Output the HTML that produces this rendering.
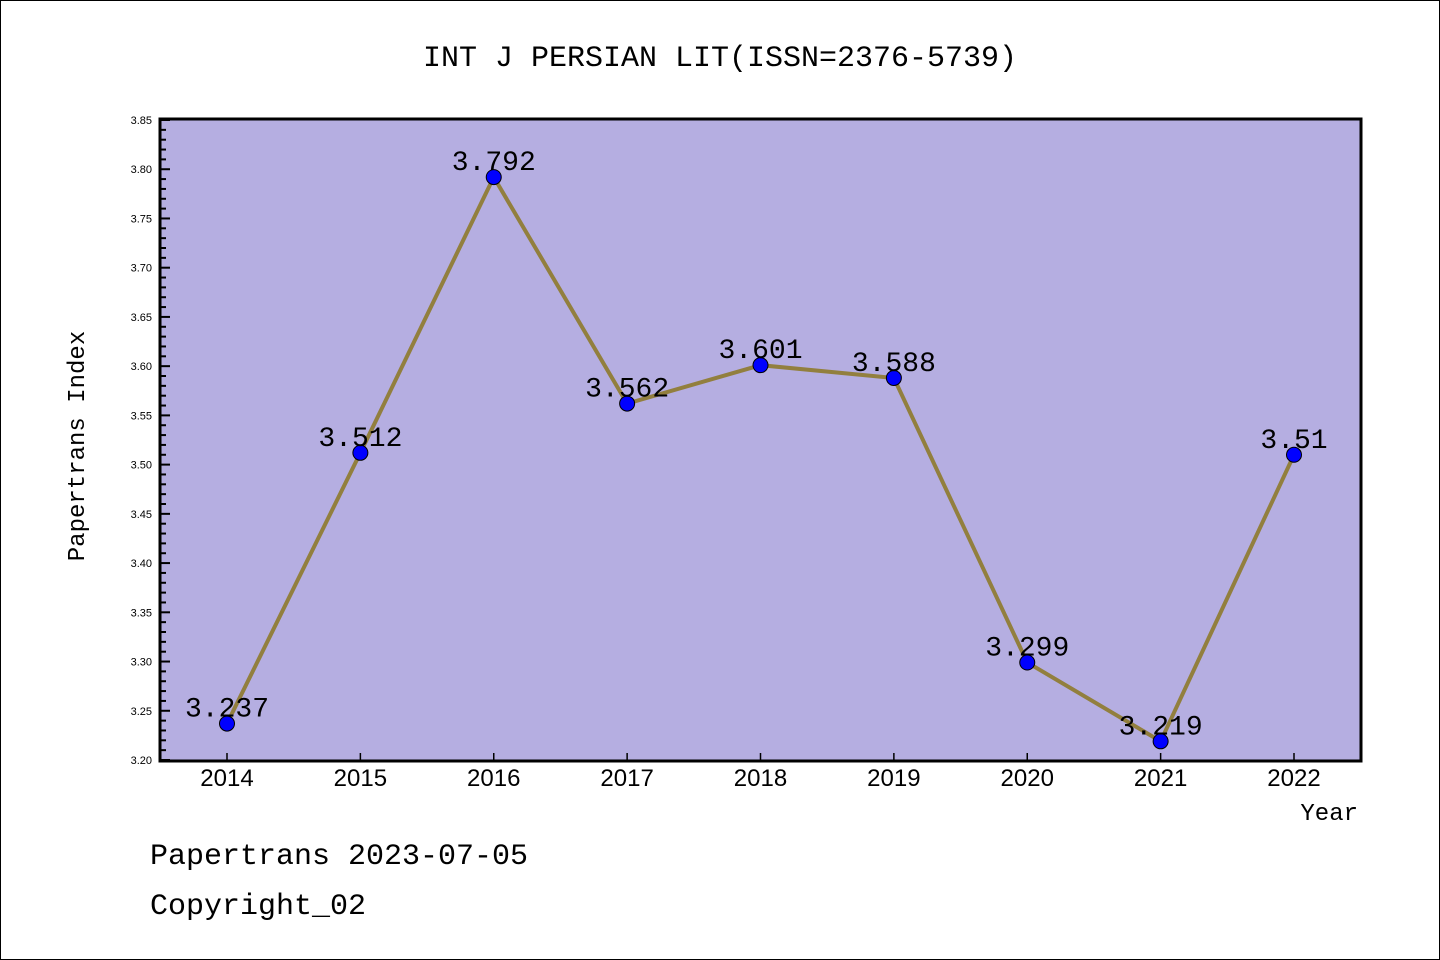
<!DOCTYPE html>
<html><head><meta charset="utf-8"><style>
body{margin:0;background:#fff;}
svg{display:block;font-family:"Liberation Mono","WenQuanYi Zen Hei",monospace;}
</style></head><body>
<svg id="c" width="1440" height="960">
<rect x="0.5" y="0.5" width="1439" height="959" fill="#fff" stroke="#000"/>
<text x="720" y="66" text-anchor="middle" font-size="30">INT J PERSIAN LIT(ISSN=2376-5739)</text>
<rect x="160" y="120" width="1201" height="641" fill="#b5aee1"/>
<g id="ticks"></g>
<g id="series"></g>
<path d="M160,119 V761 H1361 V119 Z" fill="none" stroke="#000" stroke-width="3"/>
<text transform="translate(84,446) rotate(-90)" text-anchor="middle" font-size="24">Papertrans Index</text>
<text x="1358" y="820" text-anchor="end" font-size="24">Year</text>
<text x="150" y="864" font-size="30">Papertrans 2023-07-05</text>
<text x="150" y="914" font-size="30">Copyright_02</text>
</svg>
<script>
const years=["2014","2015","2016","2017","2018","2019","2020","2021","2022"];
const values=[3.237,3.512,3.792,3.562,3.601,3.588,3.299,3.219,3.51];
const valueLabels=["3.237","3.512","3.792","3.562","3.601","3.588","3.299","3.219","3.51"];
const yTicks=["3.20","3.25","3.30","3.35","3.40","3.45","3.50","3.55","3.60","3.65","3.70","3.75","3.80","3.85"];
const yMin=3.20,yMax=3.85;
const NS="http://www.w3.org/2000/svg";
const X=i=>227+i*(1294-227)/(years.length-1);
const Y=v=>760-(v-yMin)/(yMax-yMin)*640;
function mk(tag,attrs,parent,text){const e=document.createElementNS(NS,tag);for(const k in attrs)e.setAttribute(k,attrs[k]);if(text!==undefined)e.textContent=text;parent.appendChild(e);return e;}
const tg=document.getElementById('ticks'),sg=document.getElementById('series');
for(let k=0;k<=Math.round((yMax-yMin)*100);k++){
  const v=yMin+k*0.01,y=Y(v),major=k%5===0;
  const t=mk('line',{x1:160,x2:major?170:166,y1:y,y2:y,stroke:'#000','stroke-width':2},tg);
  
  
}
yTicks.forEach(s=>{
  const t=mk('text',{x:152,y:Y(parseFloat(s))+4,'text-anchor':'end','font-size':11,'font-family':'Liberation Sans,sans-serif'},tg,s);
  
  
});
years.forEach((yr,i)=>{
  const l=mk('line',{x1:X(i),x2:X(i),y1:761,y2:753,stroke:'#000','stroke-width':1.5},tg);
  
  
  const t=mk('text',{x:X(i),y:786,'text-anchor':'middle','font-size':24,'font-family':'Liberation Sans,sans-serif'},tg,yr);
  
  
});
const line=mk('polyline',{points:values.map((v,i)=>X(i)+','+Y(v)).join(' '),fill:'none',stroke:'#927f3e','stroke-width':4},sg);


values.forEach((v,i)=>{
  const c=mk('circle',{cx:X(i),cy:Y(v),r:7.5,fill:'#0000ff',stroke:'#000','stroke-width':1},sg);
  
  
  const t=mk('text',{x:X(i),y:Y(v)-7,'text-anchor':'middle','font-size':28},sg,valueLabels[i]);
  
  
});
</script>
</body></html>
